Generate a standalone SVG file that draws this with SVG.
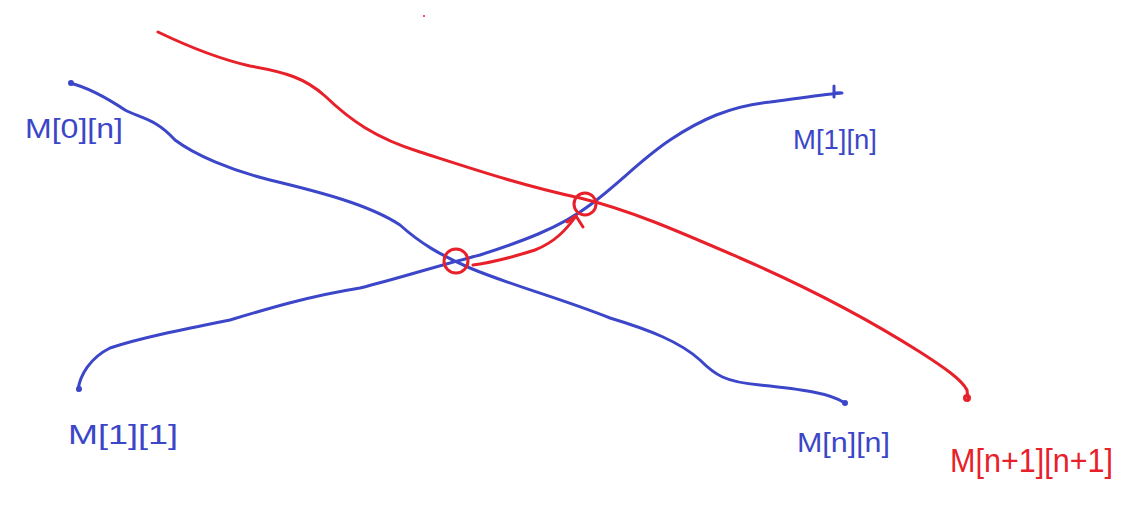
<svg xmlns="http://www.w3.org/2000/svg" width="1133" height="509" viewBox="0 0 1133 509">
<style>
.b{fill:none;stroke:#3c46c8;stroke-width:3;stroke-linecap:round;stroke-linejoin:round}
.r{fill:none;stroke:#e8202a;stroke-width:3;stroke-linecap:round;stroke-linejoin:round}
.tb{font-family:"Liberation Sans",Arial,sans-serif;fill:#3c46c8;font-size:28px}
.tr{font-family:"Liberation Sans",Arial,sans-serif;fill:#e8202a;font-size:34px}
</style>
<rect width="1133" height="509" fill="#fff"/>
<g id="connectors">
<path id="blue1" class="b" d="M70,83 C90,88 110,100 125,110 C140,118 155,118 175,140 C195,155 230,170 270,180 C320,192 370,205 400,225 C420,243 440,255 470,268 C510,285 560,298 610,318 C650,330 680,342 700,360 C715,375 725,382 760,385 C800,389 830,393 845,403"/>
<path id="blue2" class="b" d="M78,390 C80,375 90,358 110,348 C140,338 180,330 230,320 C270,308 310,296 360,288 C400,278 440,265 480,255 C520,242 560,228 590,205 C620,183 640,160 670,140 C700,120 730,106 770,102 C800,98 820,95 840,93"/>
<path class="b" d="M834,86 L834,97 M834,93 L842,93"/>
<circle class="b" cx="71" cy="83" r="1.5"/>
<circle class="b" cx="79" cy="389" r="1.5"/>
<circle class="b" cx="845" cy="403" r="1.5"/>
<path id="red1" class="r" d="M158,32 C185,45 215,58 250,66 C285,72 305,78 325,96 C350,120 375,138 420,152 C470,168 520,185 580,198 C630,210 680,232 740,258 C800,284 860,314 920,352 C945,368 962,380 967,390 L968,400"/>
<circle class="r" cx="967" cy="398" r="2.5"/>
<circle class="r" cx="456" cy="261" r="12"/>
<circle class="r" cx="585" cy="204" r="11"/>
<path id="redarrow" class="r" d="M473,265 C495,262 510,258 535,250 C555,242 566,230 576,216"/>
<path class="r" d="M567,222 L576,216 L583,227"/>
<circle cx="424" cy="16" r="1" fill="#e8202a"/>
</g>
<g id="n-m0n"><text class="tb" x="25" y="138" textLength="98" lengthAdjust="spacingAndGlyphs">M[0][n]</text></g>
<g id="n-m1n"><text class="tb" x="793" y="149" textLength="84" lengthAdjust="spacingAndGlyphs">M[1][n]</text></g>
<g id="n-m11"><text class="tb" x="68" y="444" textLength="110" lengthAdjust="spacingAndGlyphs">M[1][1]</text></g>
<g id="n-mnn"><text class="tb" x="797" y="452" textLength="93" lengthAdjust="spacingAndGlyphs">M[n][n]</text></g>
<g id="n-mn1"><text class="tr" x="950" y="472" textLength="163" lengthAdjust="spacingAndGlyphs">M[n+1][n+1]</text></g>
</svg>
